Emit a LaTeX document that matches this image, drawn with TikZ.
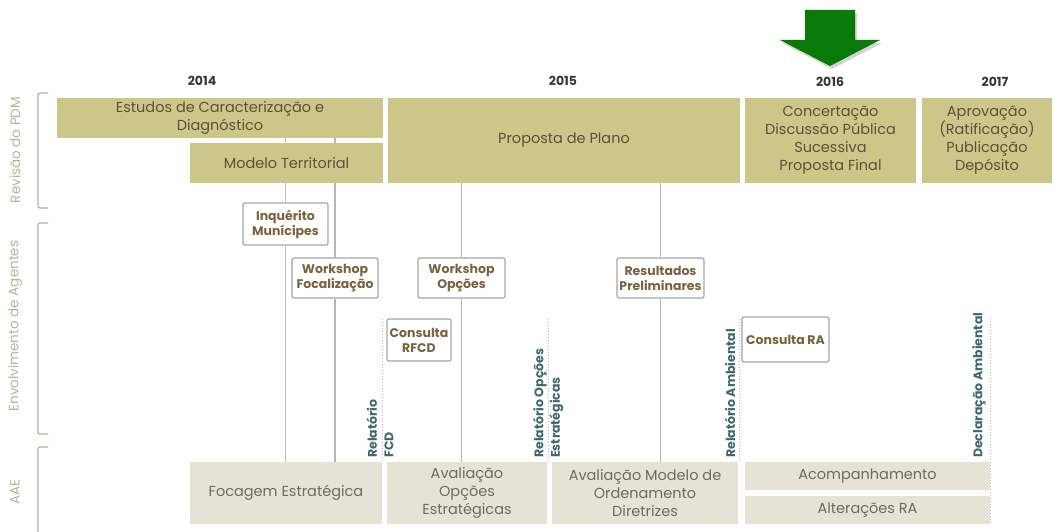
\documentclass[tikz,border=0pt]{standalone}
\usepackage{fontspec}
\setmainfont{Poppins}
\usetikzlibrary{backgrounds,shadows}
\definecolor{olive}{RGB}{205,198,137}
\definecolor{oltext}{RGB}{88,82,58}
\definecolor{greige}{RGB}{229,226,214}
\definecolor{grtext}{RGB}{110,106,96}
\definecolor{midbrown}{RGB}{122,98,62}
\definecolor{midborder}{RGB}{165,165,165}
\definecolor{connc}{RGB}{196,190,182}
\definecolor{connd}{RGB}{182,182,186}
\definecolor{dotc}{RGB}{190,188,176}
\definecolor{tealc}{RGB}{62,104,110}
\definecolor{yearc}{RGB}{55,55,55}
\definecolor{sidec}{RGB}{186,176,158}
\definecolor{arrowg}{RGB}{8,122,8}
\tikzset{
  topbox/.style={fill=olive,text=oltext,inner sep=0pt,align=center,font=\fontsize{14.5}{18}\selectfont},
  botbox/.style={fill=greige,text=grtext,inner sep=0pt,align=center,font=\fontsize{14.5}{18}\selectfont},
  midbox/.style={draw=midborder,line width=1.2pt,rounded corners=2pt,fill=white,text=midbrown,inner sep=0pt,align=center,font=\bfseries\fontsize{12.5}{15}\selectfont},
  conn/.style={draw=connc,line width=1.8pt},
  conndark/.style={draw=connd,line width=1.8pt},
  dotline/.style={draw=dotc,line width=1pt,dotted},
  replabel/.style={rotate=90,anchor=west,inner sep=0pt,text=tealc,align=left,font=\bfseries\fontsize{12.5}{16.5}\selectfont},
  yearlabel/.style={text=yearc,font=\bfseries\fontsize{12.5}{14}\selectfont},
  sidelabel/.style={rotate=90,text=sidec,font=\fontsize{13.5}{15}\selectfont},
  bracketline/.style={draw=sidec,line width=1.2pt,rounded corners=2pt},
}
\begin{document}
\begin{tikzpicture}[x=1pt,y=-1pt]
\useasboundingbox (0,0) rectangle (1054,532);
% years
\node[yearlabel] (y14) at (202,81) {2014};
\node[yearlabel] (y15) at (563,81) {2015};
\node[yearlabel] (y16) at (830,82) {2016};
\node[yearlabel] (y17) at (995,82) {2017};
% green arrow
\fill[arrowg,drop shadow={opacity=0.35,shadow xshift=2pt,shadow yshift=-3pt}]
  (805,10) -- (855,10) -- (855,40) -- (880,40) -- (830,66) -- (780,40) -- (805,40) -- cycle;
% side labels and brackets
\node[sidelabel] (lpdm) at (15,150) {Revisão do PDM};
\node[sidelabel] (lagentes) at (15,326) {Envolvimento de Agentes};
\node[sidelabel] (laae) at (15,492) {AAE};
\draw[bracketline] (48,93) -- (38,93) -- (38,208) -- (48,208);
\draw[bracketline] (48,223) -- (38,223) -- (38,434) -- (48,434);
\draw[bracketline] (48,447) -- (38,447) -- (38,532);
% top boxes
\node[topbox,minimum width=326,minimum height=40] (estudos) at (220,118) {Estudos de Caracterização e\\Diagnóstico};
\node[topbox,minimum width=193,minimum height=40] (modelo) at (286.5,163) {Modelo Territorial};
\node[topbox,minimum width=352,minimum height=85] (proposta) at (564,140.5) {Proposta de Plano};
\node[topbox,minimum width=171,minimum height=85] (concert) at (830.5,140.5) {Concertação\\Discussão Pública\\Sucessiva\\Proposta Final};
\node[topbox,minimum width=130,minimum height=85] (aprov) at (987,140.5) {Aprovação\\(Ratificação)\\Publicação\\Depósito};
% bottom boxes
\node[botbox,minimum width=192,minimum height=62] (focagem) at (286,493) {Focagem Estratégica};
\node[botbox,minimum width=160,minimum height=62] (avop) at (467,493) {Avaliação\\Opções\\Estratégicas};
\node[botbox,minimum width=186,minimum height=62] (avmod) at (645,493) {Avaliação Modelo de\\Ordenamento\\Diretrizes};
\node[botbox,minimum width=245,minimum height=28] (acomp) at (867.5,476) {Acompanhamento};
\node[botbox,minimum width=245,minimum height=28] (alter) at (867.5,510) {Alterações RA};
% middle boxes
\node[midbox,minimum width=85,minimum height=42] (inq) at (285.5,224) {Inquérito\\Munícipes};
\node[midbox,minimum width=86,minimum height=40] (wfoc) at (335,278) {Workshop\\Focalização};
\node[midbox,minimum width=87,minimum height=40] (wopc) at (461.5,278) {Workshop\\Opções};
\node[midbox,minimum width=87,minimum height=40] (res) at (660.5,278) {Resultados\\Preliminares};
\node[midbox,minimum width=64,minimum height=42] (crfcd) at (419,340) {Consulta\\RFCD};
\node[midbox,minimum width=87,minimum height=45] (cra) at (785.5,339.5) {Consulta RA};
% connectors (behind)
\begin{pgfonlayer}{background}
\draw[conn] (estudos.south -| inq.north) -- (inq.north);
\draw[conn] (inq.south) -- (focagem.north -| inq.south);
\draw[conndark] (estudos.south -| wfoc.north) -- (wfoc.north);
\draw[conndark] (wfoc.south) -- (focagem.north -| wfoc.south);
\draw[conndark] (proposta.south -| wopc.north) -- (wopc.north);
\draw[conndark] (wopc.south) -- (avop.north -| wopc.south);
\draw[conndark] (proposta.south -| res.north) -- (res.north);
\draw[conndark] (res.south) -- (avmod.north -| res.south);
\end{pgfonlayer}
% dotted report lines
\coordinate (d1) at (382,319);
\coordinate (d2) at (548,319);
\coordinate (d3) at (739,319);
\coordinate (d4) at (990,318);
\draw[dotline] (d1) -- (d1 |- focagem.north);
\draw[dotline] (d2) -- (d2 |- avop.north);
\draw[dotline] (d3) -- (d3 |- avmod.north);
\draw[dotline] (d4) -- (d4 |- alter.south);
\node[replabel] (r1) at (380,458) {Relatório\\FCD};
\node[replabel] (r2) at (548,458) {Relatório Opções\\Estratégicas};
\node[replabel] (r3) at (730,458) {Relatório Ambiental};
\node[replabel] (r4) at (979,458) {Declaração Ambiental};
\end{tikzpicture}
\end{document}
